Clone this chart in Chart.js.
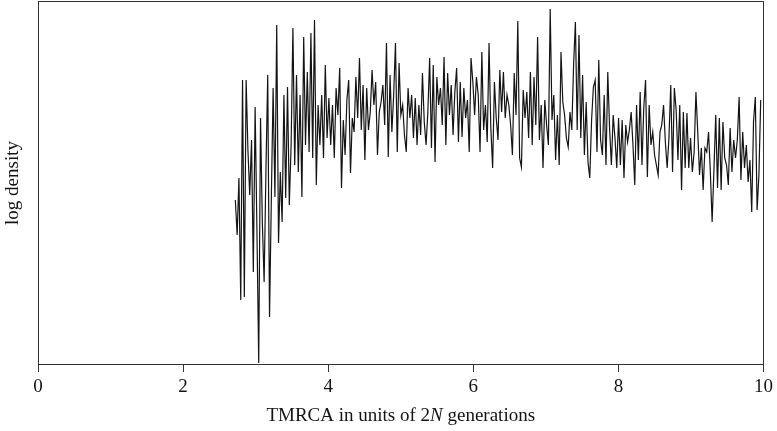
<!DOCTYPE html>
<html>
<head>
<meta charset="utf-8">
<script src="https://cdn.jsdelivr.net/npm/chart.js@4.4.0/dist/chart.umd.min.js"></script>
<style>
	html, body { margin: 0; padding: 0; background: #fff; }
	#wrap { width: 777px; height: 431px; }
</style>
</head>
<body>
<div id="wrap"><canvas id="chart-tmrca"></canvas></div>
<script>
// TMRCA sampling grid (units of 2N generations)
const X_START = 2.72;
const X_STEP = 0.0248;

// log density (arbitrary units) in chunks from left to right
const DENSITY_A = [165, 130, 187, 65, 285, 68, 285, 215, 170, 225, 93, 258, 135, 2, 247, 143, 83, 193, 290, 48, 165, 277, 168, 340, 122, 193];
const DENSITY_B = [143, 270, 167, 278, 160, 220, 337, 200, 290, 193, 270, 168, 328, 220, 293, 213, 332, 207, 345, 180, 260, 220, 270, 207, 300, 227, 267, 220];
const DENSITY_C = [260, 207, 277, 250, 297, 177, 245, 210, 265, 285, 192, 247, 233, 288, 247, 307, 235, 280, 205, 277, 235, 253, 295, 260, 283, 210, 253];
const DENSITY_D = [263, 280, 240, 322, 208, 290, 233, 270, 322, 213, 302, 250, 260, 230, 213, 277, 247, 270, 227, 267, 220, 260, 230, 292, 243, 220, 253, 307];
const DENSITY_E = [217, 300, 203, 288, 260, 277, 240, 308, 220, 292, 250, 280, 230, 273, 297, 223, 283, 228, 277, 247, 265, 213, 307, 283, 250, 288, 270, 213];
const DENSITY_F = [313, 235, 260, 223, 322, 237, 197, 283, 247, 225, 295, 253, 293, 247, 270, 260, 240, 210, 292, 250, 344, 207, 198, 275, 247, 273, 227];
const DENSITY_G = [293, 220, 288, 240, 328, 225, 260, 197, 265, 240, 220, 356, 245, 270, 205, 250, 200, 313, 263, 250, 227, 218, 253, 235, 300, 343, 235, 330];
const DENSITY_H = [227, 290, 210, 263, 203, 187, 245, 278, 285, 213, 305, 225, 210, 270, 200, 293, 237, 200, 250, 227, 197, 247, 200, 245, 187, 240, 223, 235];
const DENSITY_I = [253, 220, 180, 260, 205, 273, 200, 257, 285, 188, 260, 220, 233, 210, 200, 190, 233, 240, 260, 223, 197, 227, 280, 193, 277, 255, 205, 260];
const DENSITY_J = [175, 253, 197, 252, 197, 227, 193, 213, 273, 233, 190, 217, 175, 217, 213, 233, 193, 143, 195, 250, 177, 247, 175, 243, 207, 200, 180, 237];
const DENSITY_K = [193, 225, 207, 225, 268, 185, 233, 197, 220, 183, 205, 153, 243, 268, 155, 190, 265];

const X_TICKS = [0, 2, 4, 6, 8, 10];
const Y_LABEL = "log density";
const X_LABEL_PARTS = [["TMRCA in units of 2", false], ["N", true], [" generations", false]];

const FONT_FAMILY = "'Liberation Serif', 'DejaVu Serif', serif";
const INK = "#141414";

const DENSITY = [].concat(DENSITY_A, DENSITY_B, DENSITY_C, DENSITY_D, DENSITY_E, DENSITY_F,
	DENSITY_G, DENSITY_H, DENSITY_I, DENSITY_J, DENSITY_K);
const POINTS = DENSITY.map((v, i) => ({ x: X_START + i * X_STEP, y: v }));

// box round the plot + x title with italic N
const frameAndTitle = {
	id: "frameAndTitle",
	afterDraw(chart) {
		const { ctx, chartArea: a } = chart;
		ctx.save();
		ctx.strokeStyle = "#333";
		ctx.lineWidth = 1;
		const l = Math.round(a.left) + 0.5;
		const t = Math.round(a.top) + 0.5;
		const r = Math.round(a.right) - 0.5;
		const b = Math.round(a.bottom) - 0.5;
		ctx.strokeRect(l, t, r - l, b - t);

		const fonts = {
			false: "19px " + FONT_FAMILY,
			true: "italic 19px " + FONT_FAMILY,
		};
		let total = 0;
		X_LABEL_PARTS.forEach(([txt, it]) => {
			ctx.font = fonts[it];
			total += ctx.measureText(txt).width;
		});
		let x = (a.left + a.right) / 2 - total / 2;
		ctx.fillStyle = INK;
		ctx.textBaseline = "alphabetic";
		ctx.textAlign = "left";
		X_LABEL_PARTS.forEach(([txt, it]) => {
			ctx.font = fonts[it];
			ctx.fillText(txt, x, 421);
			x += ctx.measureText(txt).width;
		});
		ctx.restore();
	},
};

const CHART_CONFIG = {
	type: "line",
	data: {
		datasets: [
			{
				label: Y_LABEL,
				data: POINTS,
				borderColor: INK,
				borderWidth: 1.2,
				pointRadius: 0,
				tension: 0,
				fill: false,
			},
		],
	},
	options: {
		responsive: true,
		maintainAspectRatio: false,
		animation: false,
		devicePixelRatio: 1,
		layout: {
			padding: { top: 1, right: 13, left: 0, bottom: 0 },
		},
		scales: {
			x: {
				type: "linear",
				min: 0,
				max: 10,
				afterBuildTicks: (s) => {
					s.ticks = X_TICKS.map((v) => ({ value: v }));
				},
				afterFit: (s) => {
					s.height = 66;
				},
				border: { display: false },
				grid: {
					drawOnChartArea: false,
					drawTicks: true,
					tickLength: 7,
					color: "#333",
				},
				ticks: {
					color: INK,
					padding: 4,
					maxRotation: 0,
					font: { family: FONT_FAMILY, size: 19 },
				},
			},
			y: {
				min: 0,
				max: 364,
				afterFit: (s) => {
					s.width = 38;
				},
				border: { display: false },
				grid: { display: false },
				ticks: { display: false },
				title: {
					display: true,
					text: Y_LABEL,
					color: INK,
					padding: { top: 2, bottom: 0 },
					font: { family: FONT_FAMILY, size: 19 },
				},
			},
		},
		plugins: {
			legend: { display: false },
			tooltip: { enabled: false },
		},
	},
	plugins: [frameAndTitle],
};

new Chart(document.getElementById("chart-tmrca"), CHART_CONFIG);
</script>
</body>
</html>
